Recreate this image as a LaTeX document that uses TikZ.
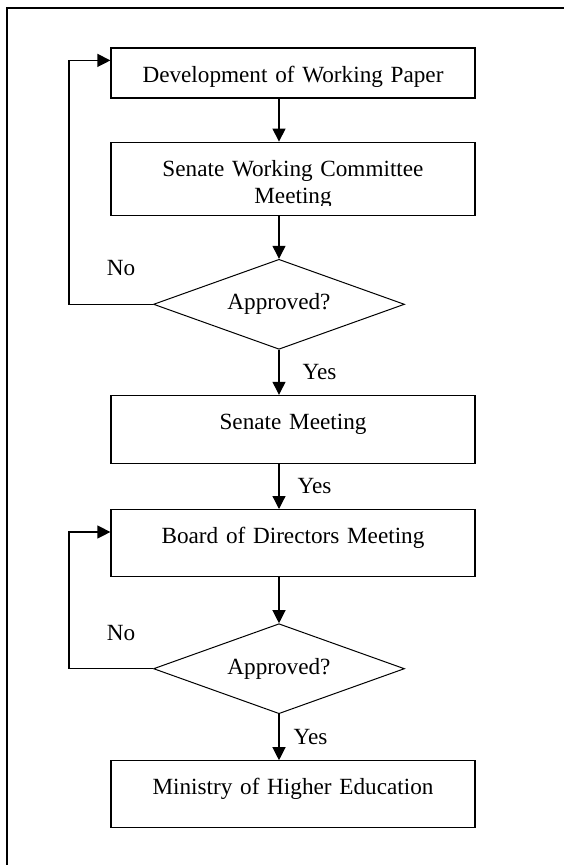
\documentclass[tikz,border=0pt]{standalone}
\usepackage{fontspec}
\setmainfont{Liberation Serif}
\usepackage{trimclip}
\usetikzlibrary{positioning, shapes.geometric, arrows.meta}

\begin{document}
\begin{tikzpicture}[
    x=1pt, y=1pt,
    node distance=44pt,
    box/.style={rectangle, draw, line width=1.2pt, minimum width=364pt, text width=350pt, align=center, inner sep=0pt, text height=34pt, font=\fontsize{23.2}{27}\selectfont},
    check/.style={diamond, draw, line width=1pt, minimum width=251pt, minimum height=90pt, aspect=2.8, inner sep=0pt, font=\fontsize{23.2}{27}\selectfont},
    lbl/.style={inner sep=0pt, font=\fontsize{23.2}{27}\selectfont},
    arr/.style={-{Triangle[length=13pt, width=13pt]}, line width=1.2pt}
]
\useasboundingbox (0,0) rectangle (564,-865);

% outer frame
\draw[line width=1.2pt] (564,-8) -| (7,-865);

\node[box, text depth=16pt] (dev) at (293,-73) {Development of Working Paper};
\node[box, text depth=39pt, below=43pt of dev] (wcm) {Senate Working Committee\\\clipbox{0pt 3pt 0pt 0pt}{Meeting}};
\node[check, below=43pt of wcm, xshift=-14pt] (chk1) {Approved?};
\node[box, text depth=34pt, below=45pt of chk1, xshift=14pt] (senate) {Senate Meeting};
\node[box, text depth=33pt, below=45pt of senate] (board) {Board of Directors Meeting};
\node[check, below=46pt of board, xshift=-14pt] (chk2) {Approved?};
\node[box, text depth=33pt, below=46pt of chk2, xshift=14pt] (moe) {Ministry of Higher Education};

\draw[arr] (dev.south -| chk1) -- (wcm.north -| chk1);
\draw[arr] (wcm.south -| chk1) -- (chk1);
\draw[arr] (chk1) -- node[lbl, right=23pt] {Yes} (senate.north -| chk1);
\draw[arr] (senate.south -| chk1) -- node[lbl, right=18pt] {Yes} (board.north -| chk1);
\draw[arr] (board.south -| chk2) -- (chk2);
\draw[arr] (chk2) -- node[lbl, right=14pt] {Yes} (moe.north -| chk2);

% loops back
\draw[arr] (chk1.west) -- node[lbl, pos=0.38, above=28pt] {No} ++(-84,0) |- ([yshift=-13pt]dev.north west);
\draw[arr] (chk2.west) -- node[lbl, pos=0.38, above=27pt] {No} ++(-84,0) |- ([yshift=-23pt]board.north west);

\end{tikzpicture}
\end{document}
